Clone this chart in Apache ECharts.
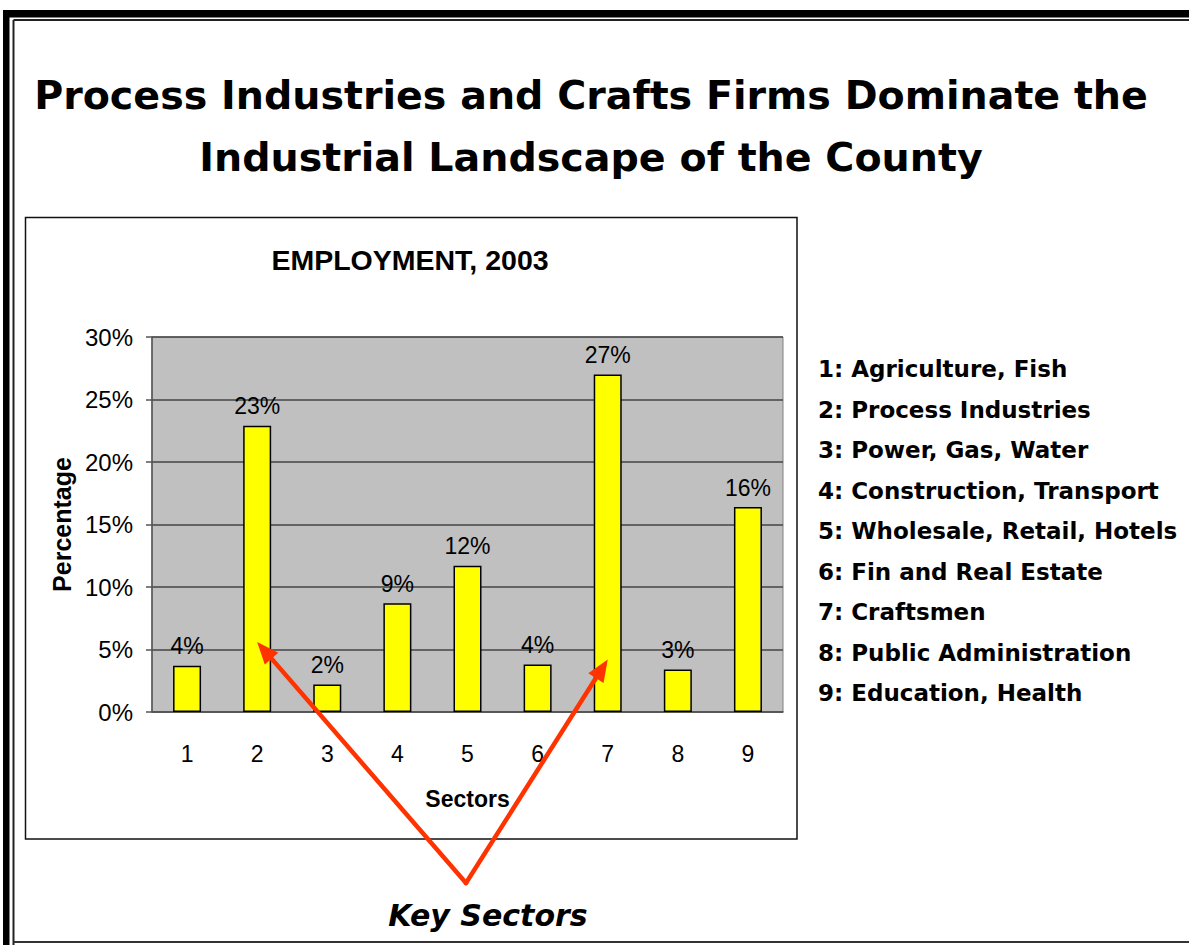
<!DOCTYPE html>
<html>
<head>
<meta charset="utf-8">
<script src="https://cdn.jsdelivr.net/npm/echarts@6/dist/echarts.min.js"></script>
<style>
html,body{margin:0;padding:0;background:#fff;}
#c{width:1189px;height:945px;}
</style>
</head>
<body>
<div id="c"></div>
<script>
const categories = ['1','2','3','4','5','6','7','8','9'];
const employment = [3.7, 22.9, 2.2, 8.7, 11.7, 3.8, 27.0, 3.4, 16.4];
const sectorNames = [
  '1: Agriculture, Fish',
  '2: Process Industries',
  '3: Power, Gas, Water',
  '4: Construction, Transport',
  '5: Wholesale, Retail, Hotels',
  '6: Fin and Real Estate',
  '7: Craftsmen',
  '8: Public Administration',
  '9: Education, Health'
];
const mainTitle = 'Process Industries and Crafts Firms Dominate the\nIndustrial Landscape of the County';
const chartTitle = 'EMPLOYMENT, 2003';
const keyLabel = 'Key Sectors';
// arrow targets (category index, value)
const arrowTargets = [[1, 5.6], [6, 4.2]];

const chart = echarts.init(document.getElementById('c'), null, {renderer: 'svg'});

const legendY0 = 369, legendStep = 40.5;
const legendGraphics = sectorNames.map((t, i) => ({
  type: 'text', x: 818, y: legendY0 + i * legendStep,
  style: {text: t, font: 'bold 23px "DejaVu Sans"', fill: '#000', verticalAlign: 'middle', align: 'left'}
}));

const frame = [
  {type: 'rect', shape: {x: 3, y: 10, width: 1189, height: 7.5}, style: {fill: '#000'}},
  {type: 'rect', shape: {x: 3, y: 10, width: 6.5, height: 940}, style: {fill: '#000'}},
  {type: 'line', shape: {x1: 13.5, y1: 20, x2: 1189, y2: 20}, style: {stroke: '#222', lineWidth: 2}},
  {type: 'line', shape: {x1: 13.5, y1: 20, x2: 13.5, y2: 945}, style: {stroke: '#222', lineWidth: 2}},
  {type: 'line', shape: {x1: 13.5, y1: 942, x2: 1189, y2: 942}, style: {stroke: '#333', lineWidth: 2}},
  {type: 'rect', shape: {x: 25.5, y: 217.5, width: 771.5, height: 621.5}, style: {fill: 'none', stroke: '#111', lineWidth: 1.5}, z: -1}
];

chart.setOption({
  backgroundColor: '#fff',
  animation: false,
  title: [
    {text: mainTitle, left: 586, top: 59, textAlign: 'center',
      textStyle: {fontFamily: 'DejaVu Sans', fontWeight: 'bold', fontSize: 39.6, lineHeight: 62, color: '#000'}},
    {text: chartTitle, left: 405, top: 240, textAlign: 'center',
      textStyle: {fontFamily: 'Liberation Sans', fontWeight: 'bold', fontSize: 28.5, color: '#000'}},
    {text: keyLabel, left: 483, top: 895, textAlign: 'center',
      textStyle: {fontFamily: 'DejaVu Sans', fontWeight: 'bold', fontStyle: 'italic', fontSize: 30, color: '#000'}}
  ],
  grid: {left: 152, top: 337, width: 631, height: 375, show: true, backgroundColor: '#c0c0c0', borderColor: '#808080', borderWidth: 1},
  xAxis: {
    type: 'category', data: categories,
    name: 'Sectors', nameLocation: 'middle', nameGap: 75,
    nameTextStyle: {fontFamily: 'Liberation Sans', fontWeight: 'bold', fontSize: 23, color: '#000'},
    axisLine: {lineStyle: {color: '#555', width: 1.5}},
    axisTick: {length: 6, lineStyle: {color: '#555', width: 1.5}},
    axisLabel: {margin: 30, fontFamily: 'Liberation Sans', fontSize: 23, color: '#000'}
  },
  yAxis: {
    type: 'value', min: 0, max: 30, interval: 5,
    name: 'Percentage', nameLocation: 'middle', nameGap: 78, nameRotate: 90,
    nameTextStyle: {fontFamily: 'Liberation Sans', fontWeight: 'bold', fontSize: 25, color: '#000'},
    axisLine: {show: true, lineStyle: {color: '#555', width: 1.5}},
    axisTick: {show: true, length: 6, lineStyle: {color: '#555', width: 1.5}},
    splitLine: {lineStyle: {color: '#444', width: 1.5}},
    axisLabel: {margin: 19, fontFamily: 'Liberation Sans', fontSize: 24, color: '#000', formatter: '{value}%'}
  },
  series: [{
    type: 'bar', data: employment, barWidth: 28,
    itemStyle: {color: '#ffff00', borderColor: '#000', borderWidth: 1.5},
    label: {show: true, position: 'top', distance: 8, fontFamily: 'Liberation Sans', fontSize: 23, color: '#000',
      formatter: p => Math.round(p.value) + '%'}
  }],
  graphic: frame.concat(legendGraphics)
});

// arrows from apex to data points
const apex = [466, 883];
const arrowG = [];
arrowTargets.forEach(([ci, v]) => {
  const tip = chart.convertToPixel({gridIndex: 0}, [ci, v]);
  const dx = tip[0] - apex[0], dy = tip[1] - apex[1];
  const len = Math.sqrt(dx*dx + dy*dy);
  const ux = dx/len, uy = dy/len;
  const hl = 22, hw = 9;
  const bx = tip[0] - ux*hl, by = tip[1] - uy*hl;
  arrowG.push({type: 'line', shape: {x1: apex[0], y1: apex[1], x2: bx, y2: by},
    style: {stroke: '#ff3300', lineWidth: 4.5, lineCap: 'round'}, z: 100});
  arrowG.push({type: 'polygon', shape: {points: [tip, [bx - uy*hw, by + ux*hw], [bx + uy*hw, by - ux*hw]]},
    style: {fill: '#ff3300'}, z: 100});
});
chart.setOption({graphic: frame.concat(legendGraphics, arrowG)});
</script>
</body>
</html>
